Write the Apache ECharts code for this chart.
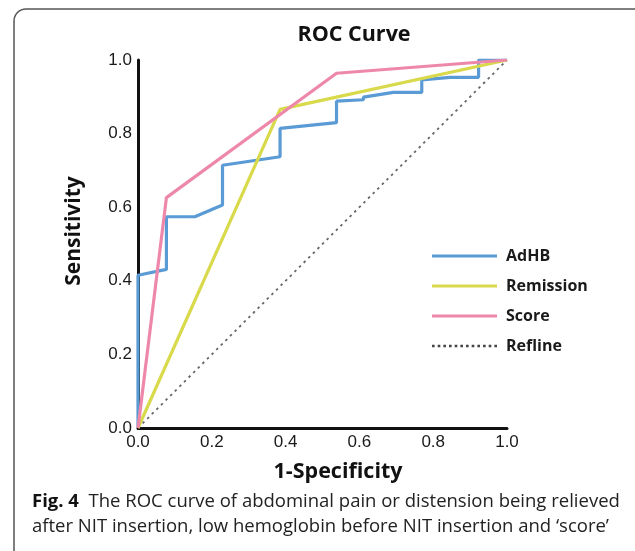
<!DOCTYPE html>
<html>
<head>
<meta charset="utf-8">
<script src="https://cdn.jsdelivr.net/npm/echarts@6/dist/echarts.min.js"></script>
<style>html,body{margin:0;padding:0;background:#fff;}#c{width:635px;height:551px;}</style>
</head>
<body>
<div id="c"></div>
<script>
// ---- data ----
var tickLabels = ['0.0', '0.2', '0.4', '0.6', '0.8', '1.0'];
var adhbX = [0, 0, 0.077, 0.077, 0.154, 0.229, 0.229, 0.385, 0.385, 0.538, 0.538, 0.611, 0.611, 0.692, 0.769, 0.769, 0.846, 0.923, 0.923, 1.0];
var adhbY = [0, 0.415, 0.431, 0.574, 0.574, 0.606, 0.714, 0.737, 0.814, 0.830, 0.888, 0.892, 0.899, 0.912, 0.912, 0.946, 0.953, 0.953, 1.0, 1.0];
var remissionX = [0, 0.385, 1.0];
var remissionY = [0, 0.866, 1.0];
var scoreX = [0, 0.077, 0.538, 1.0];
var scoreY = [0, 0.626, 0.964, 1.0];
var reflineX = [0, 1.0];
var reflineY = [0, 1.0];
var seriesNames = ['AdHB', 'Remission', 'Score', 'Refline'];

function pairs(xs, ys) { return xs.map(function (x, i) { return [x, ys[i]]; }); }

// legend icons: solid bar and dotted bar
var solidIcon = 'path://M0,0h65v3h-65z';
var dotted = [];
for (var i = 0; i < 12; i++) { var s = (i * 5.6).toFixed(2); dotted.push('M' + s + ',0h2.6v2.4h-2.6z'); }
var dottedIcon = 'path://' + dotted.join(' ');

var chart = echarts.init(document.getElementById('c'), null, { renderer: 'canvas' });
var axisCommon = {
  type: 'value', min: 0, max: 1, interval: 0.2,
  axisLine: { show: true, lineStyle: { color: '#111', width: 3 } },
  axisTick: { show: false },
  splitLine: { show: false },
  axisLabel: {
    fontFamily: 'Liberation Sans', fontSize: 17, color: '#1a1a1a', margin: 6,
    formatter: function (v) { return tickLabels[Math.round(v * 5)]; }
  }
};
var option = {
  animation: false,
  backgroundColor: '#fff',
  grid: { left: 138, top: 60, width: 369, height: 368, containLabel: false },
  xAxis: axisCommon,
  yAxis: axisCommon,
  legend: {
    data: [
      { name: seriesNames[0], icon: solidIcon },
      { name: seriesNames[1], icon: solidIcon },
      { name: seriesNames[2], icon: solidIcon },
      { name: seriesNames[3], icon: dottedIcon, itemStyle: { color: '#444' } }
    ],
    orient: 'vertical', left: 427, top: 243,
    itemWidth: 65, itemHeight: 16, itemGap: 14, symbolKeepAspect: true,
    textStyle: { fontFamily: 'Open Sans', fontWeight: 'bold', fontSize: 16, color: '#1a1a1a', padding: [0, 0, 0, 4] }
  },
  series: [
    { name: seriesNames[3], type: 'line', data: pairs(reflineX, reflineY), showSymbol: false, symbol: 'none', z: 1,
      lineStyle: { color: '#666', width: 1.8, type: [2.5, 4] }, itemStyle: { color: '#444' } },
    { name: seriesNames[0], type: 'line', data: pairs(adhbX, adhbY), showSymbol: false, symbol: 'none', z: 2,
      lineStyle: { color: '#5B9BD5', width: 3.2 }, itemStyle: { color: '#5B9BD5' } },
    { name: seriesNames[1], type: 'line', data: pairs(remissionX, remissionY), showSymbol: false, symbol: 'none', z: 3,
      lineStyle: { color: '#D9D94C', width: 3.2 }, itemStyle: { color: '#D9D94C' } },
    { name: seriesNames[2], type: 'line', data: pairs(scoreX, scoreY), showSymbol: false, symbol: 'none', z: 4,
      lineStyle: { color: '#EE88AA', width: 3.2 }, itemStyle: { color: '#EE88AA' } }
  ],
  graphic: [
    { type: 'rect', shape: { x: 14, y: 9, width: 700, height: 700, r: 12 }, style: { fill: 'none', stroke: '#555', lineWidth: 1.5 }, silent: true },
    { type: 'text', x: 354, y: 35, style: { text: 'ROC Curve', fontFamily: 'Open Sans', fontWeight: 'bold', fontSize: 21.5, fill: '#111', align: 'center', verticalAlign: 'middle' } },
    { type: 'text', x: 74, y: 231, rotation: Math.PI / 2, style: { text: 'Sensitivity', fontFamily: 'Open Sans', fontWeight: 'bold', fontSize: 21, fill: '#111', align: 'center', verticalAlign: 'middle' } },
    { type: 'text', x: 338, y: 472, style: { text: '1-Specificity', fontFamily: 'Open Sans', fontWeight: 'bold', fontSize: 21.5, fill: '#111', align: 'center', verticalAlign: 'middle' } },
    { type: 'text', x: 32, y: 502, style: {
        text: '{b|Fig. 4}  The ROC curve of abdominal pain or distension being relieved',
        fontFamily: 'Open Sans', fontSize: 18.5, fill: '#222', verticalAlign: 'middle',
        rich: { b: { fontFamily: 'Open Sans', fontWeight: 'bold', fontSize: 18.5, fill: '#111' } } } },
    { type: 'text', x: 32, y: 527, style: {
        text: 'after NIT insertion, low hemoglobin before NIT insertion and \u2018score\u2019',
        fontFamily: 'Open Sans', fontSize: 18.5, fill: '#222', verticalAlign: 'middle' } }
  ]
};
chart.setOption(option);
</script>
</body>
</html>
